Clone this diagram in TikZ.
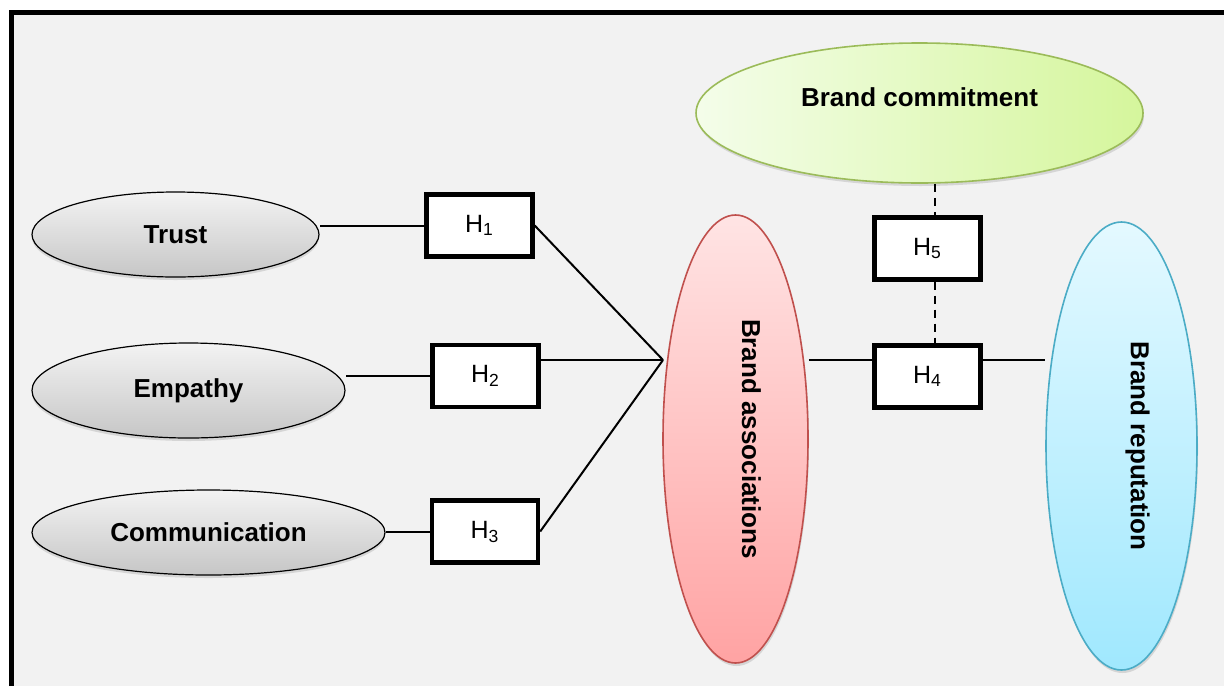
\documentclass[tikz,border=0pt]{standalone}
\usepackage{fontspec}
\setmainfont{Liberation Sans}
\usepackage{graphicx}
\usetikzlibrary{shapes.geometric, shadows, calc}
\definecolor{panel}{HTML}{F2F2F2}
\definecolor{grayhi}{HTML}{F3F3F3}
\definecolor{graylo}{HTML}{C6C6C6}
\definecolor{assochi}{HTML}{FFE4E4}
\definecolor{assoclo}{HTML}{FFA3A3}
\definecolor{assocline}{HTML}{C0504D}
\definecolor{commithi}{HTML}{F4FDEA}
\definecolor{commitlo}{HTML}{D5F69C}
\definecolor{commitline}{HTML}{9BBB59}
\definecolor{reputhi}{HTML}{E4F9FF}
\definecolor{reputlo}{HTML}{A0E8FE}
\definecolor{reputline}{HTML}{4BACC6}
\tikzset{>=latex}
\tikzset{
  factor/.style={ellipse, draw=black, line width=0.6pt,
    top color=grayhi, bottom color=graylo,
    font=\fontsize{13}{15}\selectfont\bfseries,
    drop shadow={shadow xshift=0pt, shadow yshift=-1.5pt, opacity=0.25}},
  outcome/.style={ellipse, line width=0.8pt,
    font=\fontsize{13}{15}\selectfont\bfseries,
    drop shadow={shadow xshift=0.5pt, shadow yshift=-1.5pt, opacity=0.25}},
  hyp/.style={rectangle, draw=black, fill=white, line width=2.2pt,
    minimum width=53pt, minimum height=31pt,
    font=\fontsize{12.5}{15}\selectfont},
  link/.style={line width=1pt},
  dashlink/.style={line width=1pt, dash pattern=on 4pt off 3pt}
}

\begin{document}
\begin{tikzpicture}[x=0.5pt, y=-0.5pt]
  \useasboundingbox (0,0) rectangle (1224,686);
  % frame
  \fill[white] (0,0) rectangle (1224,686);
  \fill[panel] (11.5,12.5) rectangle (1224,686);
  \draw[line width=2.5pt] (11.5,686) -- (11.5,12.5) -- (1224,12.5);

  \node[factor, minimum width=143.5pt, minimum height=42.5pt] (trust) at (175.5,234.5) {Trust};
  \node[factor, minimum width=156.5pt, minimum height=47.5pt] (empathy) at (188.5,390.5) {Empathy};
  \node[factor, minimum width=176.5pt, minimum height=42.5pt] (comm) at (208.5,532.5) {Communication};

  \node[hyp] (h1) at (479.5,225.5) {H\textsubscript{1}};
  \node[hyp] (h2) at (485.5,376) {H\textsubscript{2}};
  \node[hyp] (h3) at (485,531.5) {H\textsubscript{3}};
  \node[hyp] (h5) at (927.5,248.5) {H\textsubscript{5}};
  \node[hyp] (h4) at (927.5,376.5) {H\textsubscript{4}};

  \node[outcome, draw=assocline, top color=assochi, bottom color=assoclo,
    minimum width=72.5pt, minimum height=224pt] (assoc) at (735.5,439)
    {\hspace{16pt}\rotatebox{-90}{Brand associations}};
  \node[outcome, draw=commitline, left color=commithi, right color=commitlo,
    minimum width=223.5pt, minimum height=70pt] (commit) at (919.5,113)
    {\raisebox{16pt}{Brand commitment}};
  \node[outcome, draw=reputline, top color=reputhi, bottom color=reputlo,
    minimum width=75.5pt, minimum height=224pt] (reput) at (1121.5,446)
    {\hspace{16pt}\rotatebox{-90}{Brand reputation}};

  \coordinate (join) at (663,360);
  \coordinate (dashx) at (935,300);

  \draw[link] (h1.west) -- (h1.west -| trust.east);
  \draw[link] (h2.west) -- (h2.west -| empathy.east);
  \draw[link] (h3.west) -- (h3.west -| comm.east);
  \draw[link] (h1.east) -- (join);
  \draw[link] (h2.east |- join) -- (join);
  \draw[link] (h3.east) -- (join);
  \draw[link] (assoc.east |- join) -- (h4.west |- join);
  \draw[link] (h4.east |- join) -- (reput.west |- join);
  \draw[dashlink] (dashx |- commit.south) -- (dashx |- h5.north);
  \draw[dashlink] (dashx |- h5.south) -- (dashx |- h4.north);
\end{tikzpicture}
\end{document}
